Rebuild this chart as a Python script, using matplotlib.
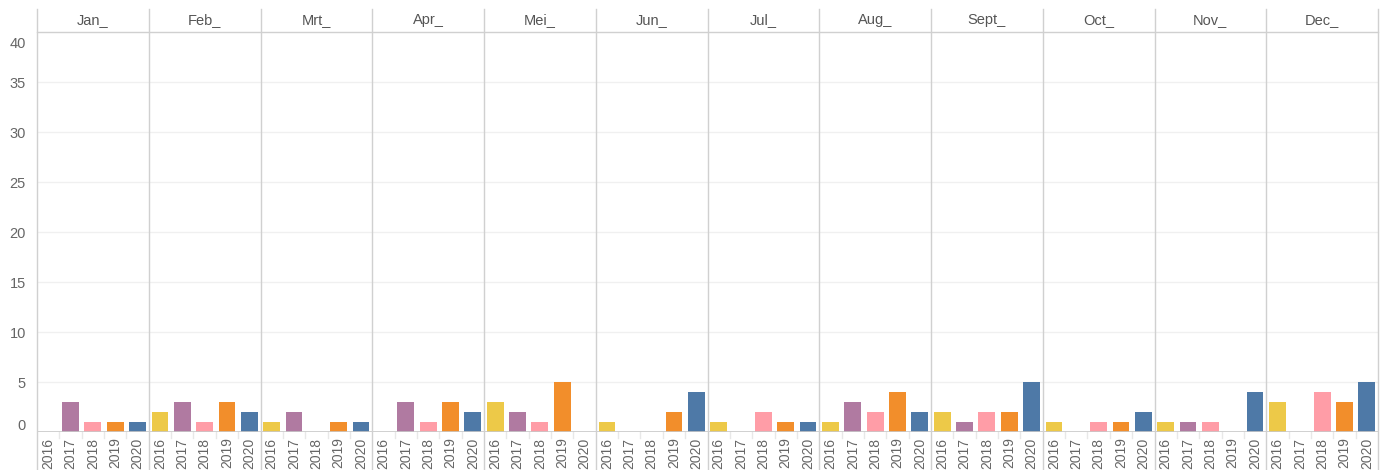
import matplotlib
matplotlib.use("Agg")
import matplotlib.pyplot as plt
import matplotlib.transforms as mtransforms
import numpy as np

plt.rcParams['font.family'] = ['Liberation Sans', 'DejaVu Sans']

months = ["Jan_", "Feb_", "Mrt_", "Apr_", "Mei_", "Jun_", "Jul_", "Aug_",
          "Sept_", "Oct_", "Nov_", "Dec_"]
years = ["2016", "2017", "2018", "2019", "2020"]
year_colors = ["#EDC948", "#B07AA1", "#FF9DA7", "#F28E2B", "#4E79A7"]

# counts per month, one value per year (2016..2020)
jan = [0, 3, 1, 1, 1]
feb = [2, 3, 1, 3, 2]
mrt = [1, 2, 0, 1, 1]
apr = [0, 3, 1, 3, 2]
mei = [3, 2, 1, 5, 0]
jun = [1, 0, 0, 2, 4]
jul = [1, 0, 2, 1, 1]
aug = [1, 3, 2, 4, 2]
sep = [2, 1, 2, 2, 5]
okt = [1, 0, 1, 1, 2]
nov = [1, 1, 1, 0, 4]
dec = [3, 0, 4, 3, 5]
monthly = [jan, feb, mrt, apr, mei, jun, jul, aug, sep, okt, nov, dec]

y_ticks = [0, 5, 10, 15, 20, 25, 30, 35, 40]

W, H = 1385, 470
fig = plt.figure(figsize=(W / 100, H / 100), dpi=100)
left, right, top, bottom = 37, 1378, 32, 432
ax = fig.add_axes([left / W, (H - bottom) / H, (right - left) / W, (bottom - top) / H])

ny = len(years)
n = len(months) * ny
for m, vals in enumerate(monthly):
    xs = np.arange(ny) + m * ny
    ax.bar(xs, vals, width=0.75, color=year_colors, zorder=3)

ax.set_xlim(-0.5, n - 0.5)
ax.set_ylim(0, 40)

# light horizontal grid
for t in y_ticks[1:-1]:
    ax.axhline(t, color="#f0f0f0", lw=1.0, zorder=1)

for s in ["top", "right", "left", "bottom"]:
    ax.spines[s].set_visible(False)

line_c = "#d0d0d0"
# bottom axis line and header line
ax.axhline(0, color="#c8c8c8", lw=1.2, zorder=4)
ax.axhline(40, color=line_c, lw=1.0, zorder=4, clip_on=False)

# vertical separators between months (through header and year labels)
blend = mtransforms.blended_transform_factory(ax.transData, fig.transFigure)
y_top_fig = (H - 9) / H
for k in range(len(months) + 1):
    xb = k * ny - 0.5
    ax.plot([xb, xb], [0, y_top_fig], transform=blend, color=line_c, lw=1.0,
            clip_on=False, zorder=5)

# faint dividers between year labels
y_ax_fig = (H - bottom) / H
y_div_fig = (H - bottom - 6) / H
for i in range(n):
    if i % ny == 0:
        continue
    xb = i - 0.5
    ax.plot([xb, xb], [y_div_fig, y_ax_fig], transform=blend, color="#e8e8e8",
            lw=1.0, clip_on=False)

# month headers
y_hdr = (H - 20) / H
for m, name in enumerate(months):
    ax.text(m * ny + (ny - 1) / 2, y_hdr, name, transform=blend, ha="center",
            va="center", fontsize=10.5, color="#555555")

# y tick labels
ax.set_yticks(y_ticks)
ax.set_yticklabels([str(t) for t in y_ticks])
ax.tick_params(axis="y", length=0, pad=8, labelsize=10.5, labelcolor="#666666")
labels = ax.get_yticklabels()
dpi_scale = fig.dpi_scale_trans
labels[0].set_transform(labels[0].get_transform() +
                        mtransforms.ScaledTranslation(0, 8 / 100, dpi_scale))
labels[-1].set_transform(labels[-1].get_transform() +
                         mtransforms.ScaledTranslation(0, -10 / 100, dpi_scale))

# rotated year labels under each bar
ax.set_xticks(np.arange(n))
ax.set_xticklabels(years * len(months), rotation=90)
ax.tick_params(axis="x", length=0, pad=4, labelsize=10, labelcolor="#666666")

fig.savefig("out.png", dpi=100, facecolor="white")
